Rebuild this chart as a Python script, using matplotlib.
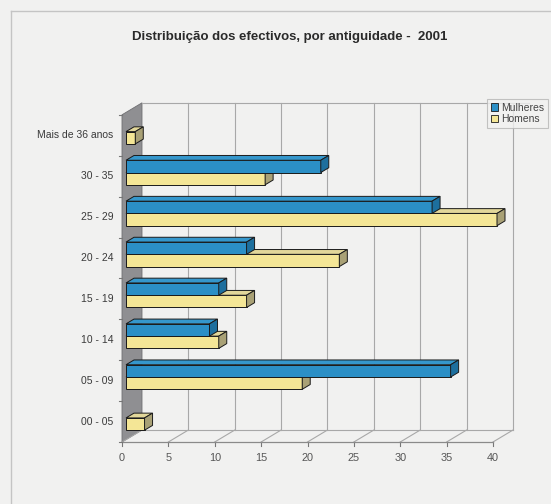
import matplotlib
matplotlib.use("Agg")
import matplotlib.pyplot as plt
from matplotlib.patches import Polygon, Rectangle
from matplotlib.lines import Line2D

plt.rcParams['font.family'] = ['Liberation Sans', 'DejaVu Sans']

# --- data ---------------------------------------------------------------
categorias = ["00 - 05", "05 - 09", "10 - 14", "15 - 19", "20 - 24",
              "25 - 29", "30 - 35", "Mais de 36 anos"]
mulheres = [0, 35, 9, 10, 13, 33, 21, 0]
homens = [2, 19, 10, 13, 23, 40, 15, 1]
x_ticks = [0, 5, 10, 15, 20, 25, 30, 35, 40]
titulo = "Distribuição dos efectivos, por antiguidade -  2001"

# --- styling ------------------------------------------------------------
BG = "#f1f1f0"
BLUE_FRONT, BLUE_TOP, BLUE_SIDE = "#2b8fc6", "#3597cc", "#1d6f9e"
YEL_FRONT, YEL_TOP, YEL_SIDE = "#f4e696", "#e2d79a", "#a9a176"
GRID = "#a8a8a8"
WALL = "#8f8f92"
EDGE = "#1a1a1a"

# oblique depth offset (data units for a full-depth step)
DX, DY = 2.156, 0.293
XMAX = 40
N = len(categorias)

W, H = 551, 504
fig = plt.figure(figsize=(W / 100, H / 100), dpi=100, facecolor=BG)
# axes spanning pixels x 100..530, y 90..460 (from top)
ax = fig.add_axes([100 / W, (H - 460) / H, 430 / W, 370 / H])
ax.set_xlim((100 - 122) / 9.275, (530 - 122) / 9.275)
ax.set_ylim(-0.5 - (460 - 442) / 40.9, -0.5 + (442 - 90) / 40.9)
ax.axis("off")
ax.patch.set_alpha(0)

y0, y1 = -0.5, N - 0.5

# left wall
ax.add_patch(Polygon([(0, y0), (0, y1), (DX, y1 + DY), (DX, y0 + DY)],
                     closed=True, facecolor=WALL, edgecolor="#6f6f72",
                     lw=0.6, zorder=1))
# back wall top edge
ax.plot([DX, DX + XMAX + 3.0], [y1 + DY, y1 + DY], color=GRID, lw=0.8, zorder=1)
# back-wall vertical gridlines and floor lines
for t in x_ticks:
    if t > 0:
        ax.plot([t + DX, t + DX], [y0 + DY, y1 + DY], color=GRID, lw=0.8, zorder=1)
    ax.plot([t, t + DX], [y0, y0 + DY], color=GRID, lw=0.8, zorder=1)
    ax.plot([t, t], [y0, y0 - 0.09], color="#777777", lw=0.8, zorder=1)
    ax.text(t, y0 - 0.38, str(t), ha="center", va="center",
            fontsize=7.8, color="#555555")
# floor back edge and front axis
ax.plot([DX, XMAX + DX], [y0 + DY, y0 + DY], color=GRID, lw=0.8, zorder=1)
ax.plot([0, XMAX], [y0, y0], color="#8a8a8a", lw=0.9, zorder=1)

# category ticks and labels
for k in range(N + 1):
    ax.plot([-0.3, 0], [y0 + k, y0 + k], color="#777777", lw=0.8, zorder=1)
for i, c in enumerate(categorias):
    ax.text(-0.95, i, c, ha="right", va="center", fontsize=7.5,
            color="#3a3a3a")

# bars
D0, DB = 0.2, 0.4          # front-face depth, bar depth
x0 = D0 * DX
h = 0.3
ddx, ddy = DB * DX, DB * DY


def bar3d(yb, v, front, top, side, z):
    if v <= 0:
        return
    yt = yb + h
    ax.barh(yb, v, height=h, left=x0, align="edge", color=front,
            edgecolor=EDGE, linewidth=0.7, zorder=z)
    ax.add_patch(Polygon([(x0, yt), (x0 + v, yt), (x0 + v + ddx, yt + ddy),
                          (x0 + ddx, yt + ddy)], closed=True, facecolor=top,
                         edgecolor=EDGE, lw=0.7, zorder=z))
    ax.add_patch(Polygon([(x0 + v, yb), (x0 + v + ddx, yb + ddy),
                          (x0 + v + ddx, yt + ddy), (x0 + v, yt)], closed=True,
                         facecolor=side, edgecolor=EDGE, lw=0.7, zorder=z))


z = 3
for i in range(N - 1, -1, -1):
    yc = i + D0 * DY + 0.03
    bar3d(yc - h, homens[i], YEL_FRONT, YEL_TOP, YEL_SIDE, z)
    z += 1
    bar3d(yc, mulheres[i], BLUE_FRONT, BLUE_TOP, BLUE_SIDE, z)
    z += 1

# legend
handles = [Rectangle((0, 0), 1, 1, facecolor=BLUE_FRONT, edgecolor=EDGE, lw=0.6),
           Rectangle((0, 0), 1, 1, facecolor=YEL_FRONT, edgecolor=EDGE, lw=0.6)]
leg = fig.legend(handles, ["Mulheres", "Homens"], loc="upper right",
                 bbox_to_anchor=(548 / W, 1 - 99 / H), fontsize=7.5,
                 frameon=True, fancybox=False, handlelength=0.7,
                 handleheight=0.7, handletextpad=0.3, borderpad=0.35,
                 labelspacing=0.15, borderaxespad=0)
leg.get_frame().set_edgecolor("#b5b5b5")
leg.get_frame().set_facecolor(BG)
leg.get_frame().set_linewidth(0.8)
for t in leg.get_texts():
    t.set_color("#444444")

# title
fig.text(290 / W, 1 - 37 / H, titulo, ha="center", va="center",
         fontsize=9.5, fontweight="bold", color="#2a2a2a")

# outer chart frame
fig.add_artist(Line2D([11 / W, 11 / W], [0, 1 - 11 / H], color="#c4c4c4", lw=1.0))
fig.add_artist(Line2D([11 / W, 1], [1 - 11 / H, 1 - 11 / H], color="#c4c4c4", lw=1.0))

fig.savefig("out.png", dpi=100, facecolor=BG)
